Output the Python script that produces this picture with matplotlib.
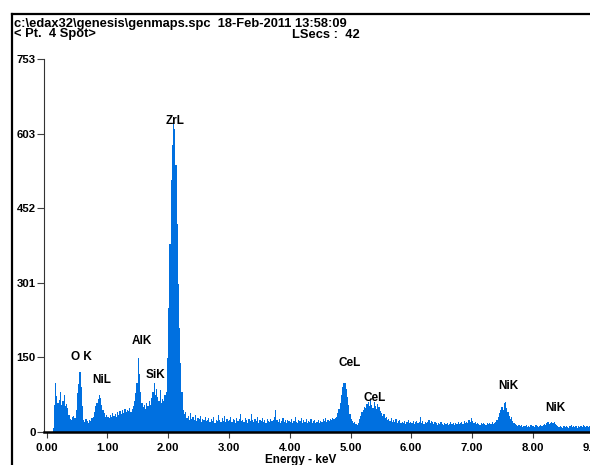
import numpy as np
import matplotlib
matplotlib.use("Agg")
import matplotlib.pyplot as plt
from matplotlib.lines import Line2D

# ---------------- data (counts per 0.02 keV channel) ----------------
bin_width_kev = 0.02
counts_0 = [0, 0, 0, 0, 0, 8, 55, 100, 72, 58,
            64, 81, 55, 62, 75, 52, 57, 48, 34, 27,
            24, 30, 33, 29, 45, 78, 96, 122, 90, 52,
            24, 20, 27, 22, 19, 25, 23, 29, 31, 40,
            52, 58, 66, 75, 68, 55, 44, 38, 30, 34]
counts_1 = [30, 28, 35, 31, 38, 33, 36, 30, 40, 35,
            42, 37, 44, 39, 46, 40, 45, 42, 48, 41,
            46, 52, 63, 78, 100, 149, 118, 80, 58, 50,
            55, 47, 58, 52, 62, 55, 68, 80, 98, 74,
            86, 70, 62, 85, 58, 66, 62, 75, 80, 150]
counts_2 = [250, 380, 510, 580, 624, 612, 540, 420, 300, 210,
            140, 80, 45, 36, 40, 28, 33, 25, 38, 27,
            30, 24, 35, 22, 28, 26, 33, 21, 27, 24,
            30, 22, 25, 29, 20, 26, 23, 31, 19, 25,
            22, 35, 24, 21, 28, 23, 33, 20, 26, 22]
counts_3 = [25, 30, 21, 27, 24, 19, 28, 23, 26, 37,
            22, 25, 20, 29, 24, 18, 26, 22, 37, 24,
            20, 27, 23, 30, 19, 25, 22, 28, 21, 24,
            19, 26, 23, 20, 27, 22, 25, 30, 44, 24,
            21, 26, 19, 23, 28, 20, 24, 18, 25, 22]
counts_4 = [20, 26, 19, 23, 30, 21, 18, 25, 22, 28,
            19, 24, 21, 27, 18, 23, 20, 26, 19, 22,
            25, 18, 21, 24, 19, 23, 20, 26, 22, 28,
            21, 25, 23, 27, 24, 29, 26, 28, 31, 38,
            46, 58, 75, 90, 98, 100, 86, 70, 55, 36]
counts_5 = [27, 22, 18, 21, 16, 14, 19, 26, 33, 40,
            45, 51, 48, 56, 60, 52, 64, 55, 49, 61,
            53, 47, 57, 50, 42, 38, 33, 36, 28, 31,
            24, 27, 22, 29, 21, 24, 20, 26, 19, 22,
            25, 18, 21, 19, 23, 17, 20, 24, 18, 21]
counts_6 = [19, 22, 17, 20, 23, 18, 21, 31, 19, 22,
            17, 20, 18, 21, 24, 19, 22, 20, 17, 21,
            18, 15, 19, 16, 20, 17, 14, 18, 16, 19,
            15, 17, 20, 16, 18, 15, 19, 17, 21, 16,
            18, 20, 17, 22, 19, 21, 18, 24, 20, 28]
counts_7 = [22, 18, 20, 16, 19, 17, 15, 18, 16, 19,
            17, 15, 18, 16, 19, 17, 20, 16, 18, 21,
            24, 30, 38, 45, 51, 44, 58, 61, 48, 40,
            33, 27, 30, 22, 19, 16, 14, 13, 15, 12,
            14, 11, 13, 12, 15, 11, 13, 10, 14, 12]
counts_8 = [13, 11, 14, 12, 10, 13, 15, 12, 14, 17,
            15, 18, 20, 17, 19, 21, 18, 20, 16, 14,
            12, 10, 13, 11, 9, 12, 10, 13, 11, 9,
            12, 14, 10, 12, 11, 13, 9, 12, 10, 13,
            11, 14, 12, 10, 13, 11, 12, 10, 12, 11,
            13, 9, 12, 10, 11, 13, 10, 12, 9, 11]

peak_names = ["ZrL", "AlK", "O K", "NiL", "SiK", "CeL", "CeL", "NiK", "NiK"]
peak_label_kev = [2.11, 1.57, 0.58, 0.91, 1.80, 4.98, 5.40, 7.59, 8.37]
peak_label_counts = [628, 184, 151, 106, 115, 139, 69, 92, 48]

x_ticks = [0, 1, 2, 3, 4, 5, 6, 7, 8, 9]
x_tick_labels = ["0.00", "1.00", "2.00", "3.00", "4.00", "5.00", "6.00", "7.00", "8.00", "9.00"]
y_ticks = [0, 150.6, 301.2, 451.8, 602.4, 753]
y_tick_labels = ["0", "150", "301", "452", "603", "753"]

header_line1 = "c:\\edax32\\genesis\\genmaps.spc  18-Feb-2011 13:58:09"
header_line2_left = "< Pt.  4 Spot>"
header_line2_right = "LSecs :  42"
x_label = "Energy - keV"

# ---------------- figure ----------------
W, H = 590, 465
fig = plt.figure(figsize=(W / 100, H / 100), dpi=100)
fig.patch.set_facecolor("white")
FONT = ["Liberation Sans", "DejaVu Sans"]

counts = np.array(counts_0 + counts_1 + counts_2 + counts_3 + counts_4 +
                  counts_5 + counts_6 + counts_7 + counts_8, dtype=float)
edges = np.arange(len(counts) + 1) * bin_width_kev

x_lo, x_hi = -0.04, 9.2
px_per_kev = 60.8
left_px = 46.5 + x_lo * px_per_kev
width_px = (x_hi - x_lo) * px_per_kev
ax = fig.add_axes([left_px / W, 33 / H, width_px / W, 372.7 / H])
ax.stairs(counts, edges, fill=True, color="#0070E0", linewidth=0)
ax.set_xlim(x_lo, x_hi)
ax.set_ylim(0, 753)

for s in ("top", "right"):
    ax.spines[s].set_visible(False)
ax.spines["bottom"].set_linewidth(1.8)
ax.spines["bottom"].set_color("black")
ax.spines["left"].set_linewidth(0.8)
ax.spines["left"].set_color("#333333")

ax.set_xticks(x_ticks)
ax.set_xticklabels(x_tick_labels)
ax.set_yticks(y_ticks)
ax.set_yticklabels(y_tick_labels)
ax.tick_params(axis="x", direction="out", length=4, width=0.8, color="#404040", pad=4)
ax.tick_params(axis="y", direction="out", length=5, width=0.8, color="#404040", pad=1)
for lab in ax.get_xticklabels() + ax.get_yticklabels():
    lab.set_fontfamily(FONT)
    lab.set_fontweight("bold")
    lab.set_fontsize(8.2)

for name, e, c in zip(peak_names, peak_label_kev, peak_label_counts):
    ax.text(e, c, name, ha="center", va="center", fontsize=8.5,
            fontweight="bold", family=FONT, color="black", clip_on=False)

fig.text(301 / W, 1 - 459.5 / H, x_label, ha="center", va="center",
         fontsize=8.5, fontweight="bold", family=FONT)

fig.text(14 / W, 1 - 26.5 / H, header_line1, ha="left", va="baseline",
         fontsize=9.3, fontweight="bold", family=FONT)
fig.text(14 / W, 1 - 37.5 / H, header_line2_left, ha="left", va="baseline",
         fontsize=9.3, fontweight="bold", family=FONT)
fig.text(292 / W, 1 - 37.5 / H, header_line2_right, ha="left", va="baseline",
         fontsize=9.3, fontweight="bold", family=FONT)

# frame lines
fig.add_artist(Line2D([12 / W, 12 / W], [0, 1 - 14 / H], transform=fig.transFigure,
                      color="black", linewidth=1.6))
fig.add_artist(Line2D([12 / W, 1], [1 - 14 / H, 1 - 14 / H], transform=fig.transFigure,
                      color="black", linewidth=1.6))

fig.savefig("out.png", dpi=100)
